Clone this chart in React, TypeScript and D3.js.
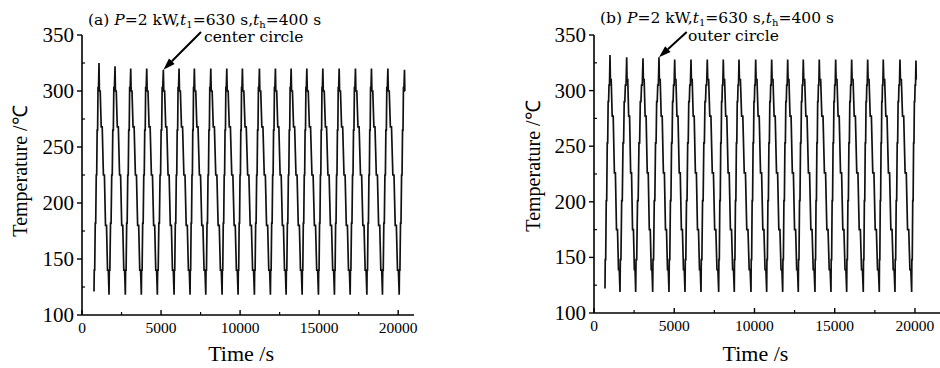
import React from "react";
import * as d3 from "d3";

const xMajorTicks = [0, 5000, 10000, 15000, 20000];
const xMinorTicks = [2500, 7500, 12500, 17500];
const yMajorTicks = [100, 150, 200, 250, 300, 350];
const yMinorTicks = [125, 175, 225, 275, 325];

// where each temperature plateau starts / ends, as a share of the rise (min→peak) and fall (peak→next min) time
const riseStart = [0.05, 0.25, 0.45, 0.63, 0.8];
const riseEnd = [0.14, 0.34, 0.54, 0.72, 0.9];
const fallStart = [0.04, 0.22, 0.44, 0.65, 0.85];
const fallEnd = [0.12, 0.32, 0.54, 0.75, 0.93];

// (a) center circle
const centerMinTimes = [759, 1709, 2741, 3753, 4766, 5823, 6835, 7829, 8861, 9873, 10905, 11918, 12911, 13924, 14956, 15968, 16962, 18019, 19006, 20063];
const centerMinTemps = [121, 118, 118, 118, 118, 118, 118, 118, 118, 118, 118, 118, 118, 118, 118, 118, 118, 118, 118, 118];
const centerPeakTimes = [1076, 2089, 3082, 4095, 5146, 6139, 7108, 8146, 9158, 10146, 11222, 12234, 13228, 14222, 15234, 16266, 17297, 18310, 19348, 20399];
const centerPeakTemps = [325, 322, 320, 320, 319, 320, 320, 320, 320, 320, 320, 320, 320, 320, 320, 320, 320, 320, 320, 319];
const centerRiseLevels = [140, 182, 225, 265, 303];
const centerFallLevels = [300, 268, 225, 180, 140];
const centerEndTime = 20440;

// (b) outer circle
const outerMinTimes = [685, 1620, 2598, 3657, 4673, 5670, 6667, 7769, 8741, 9782, 10760, 11757, 12729, 13769, 14766, 15745, 16779, 17776, 18754, 19794];
const outerMinTemps = [122, 119, 119, 119, 119, 119, 119, 119, 119, 119, 119, 119, 119, 119, 119, 119, 119, 119, 119, 119];
const outerPeakTimes = [997, 2037, 3053, 4050, 5028, 6044, 7059, 8056, 9034, 10075, 11072, 12069, 13041, 14037, 15059, 16056, 17053, 18025, 19065, 20062];
const outerPeakTemps = [332, 330, 329, 330, 328, 328, 328, 328, 328, 328, 328, 328, 328, 328, 328, 328, 328, 328, 328, 327];
const outerRiseLevels = [148, 201, 253, 290, 305];
const outerFallLevels = [310, 277, 226, 175, 139];
const outerEndTime = 20100;

type Pt = [number, number];

function buildSeries(
  minT: number[], minV: number[], peakT: number[], peakV: number[],
  riseLv: number[], fallLv: number[], endT: number
): Pt[] {
  const pts: Pt[] = [];
  const n = minT.length;
  for (let i = 0; i < n; i++) {
    const rise = peakT[i] - minT[i];
    pts.push([minT[i], minV[i]]);
    riseLv.forEach((v, k) => {
      pts.push([minT[i] + riseStart[k] * rise, v]);
      pts.push([minT[i] + riseEnd[k] * rise, v]);
    });
    pts.push([peakT[i], peakV[i]]);
    if (i + 1 < n) {
      const fall = minT[i + 1] - peakT[i];
      fallLv.forEach((v, k) => {
        pts.push([peakT[i] + fallStart[k] * fall, v]);
        pts.push([peakT[i] + fallEnd[k] * fall, v]);
      });
    } else {
      pts.push([endT - 20, fallLv[0]]);
      pts.push([endT, fallLv[0]]);
    }
  }
  return pts;
}

const SERIF = "'DejaVu Serif', serif";
const TIMES = "'Liberation Serif', serif";

type PanelProps = {
  letter: string;
  label: string;
  x0: number; x1: number; xMax: number;
  yTop: number; yBottom: number;
  series: Pt[];
  arrowIdx: number;
  peakT: number[]; peakV: number[];
  titleX: number; titleY: number;
  labelX: number; labelY: number;
  arrowTail: Pt;
  yLabelX: number; yLabelY: number;
};

function Panel(p: PanelProps) {
  const x = d3.scaleLinear().domain([0, p.xMax]).range([p.x0, p.x1]);
  const y = d3.scaleLinear().domain([100, 350]).range([p.yBottom, p.yTop]);
  const line = d3.line<Pt>().x(d => x(d[0])).y(d => y(d[1])).curve(d3.curveLinear);
  const tip: Pt = [x(p.peakT[p.arrowIdx]), y(p.peakV[p.arrowIdx])];
  const [tx, ty] = p.arrowTail;
  const ang = Math.atan2(tip[1] - ty, tip[0] - tx);
  const hl = 12, hw = 4;
  const bx = tip[0] - hl * Math.cos(ang), by = tip[1] - hl * Math.sin(ang);
  const head = [
    tip,
    [bx + hw * Math.sin(ang), by - hw * Math.cos(ang)],
    [bx - hw * Math.sin(ang), by + hw * Math.cos(ang)],
  ].map(q => q.join(",")).join(" ");
  const xb = y(100);
  return (
    <g fill="#000">
      <path d={line(p.series) || ""} fill="none" stroke="#111" strokeWidth={1.7} strokeLinejoin="miter" strokeMiterlimit={2} />
      {/* axes */}
      <line x1={p.x0} x2={p.x0} y1={y(350)} y2={xb} stroke="#000" strokeWidth={1.6} />
      <line x1={p.x0} x2={p.x1} y1={xb} y2={xb} stroke="#000" strokeWidth={1.6} />
      {yMajorTicks.map(v => (
        <g key={"ym" + v}>
          <line x1={p.x0 - 5} x2={p.x0} y1={y(v)} y2={y(v)} stroke="#000" strokeWidth={1.4} />
          <text x={p.x0 - 8} y={y(v) + 7} textAnchor="end" fontSize={21} fontFamily={TIMES}>{v}</text>
        </g>
      ))}
      {yMinorTicks.map(v => (
        <line key={"yn" + v} x1={p.x0} x2={p.x0 + 3} y1={y(v)} y2={y(v)} stroke="#000" strokeWidth={1.2} />
      ))}
      {xMajorTicks.map(v => (
        <g key={"xm" + v}>
          <line x1={x(v)} x2={x(v)} y1={xb} y2={xb - 5} stroke="#000" strokeWidth={1.4} />
          <text x={x(v)} y={xb + 18} textAnchor="middle" fontSize={15.5} fontFamily={TIMES}>{v}</text>
        </g>
      ))}
      {xMinorTicks.map(v => (
        <line key={"xn" + v} x1={x(v)} x2={x(v)} y1={xb} y2={xb - 3} stroke="#000" strokeWidth={1.2} />
      ))}
      <text x={(p.x0 + x(20000)) / 2 + 1} y={361} textAnchor="middle" fontSize={22} fontFamily={TIMES}>Time /s</text>
      <text transform={`translate(${p.yLabelX},${p.yLabelY}) rotate(-90)`} textAnchor="middle" fontSize={20} fontFamily={TIMES}>Temperature /℃</text>
      {/* title */}
      <text x={p.titleX} y={p.titleY} fontSize={15.5} fontFamily={SERIF}>
        ({p.letter}) <tspan fontStyle="italic">P</tspan>=2 kW,<tspan fontStyle="italic">t</tspan><tspan fontSize={10} baselineShift="-3">1</tspan>=630 s,<tspan fontStyle="italic">t</tspan><tspan fontSize={10} baselineShift="-3">h</tspan>=400 s
      </text>
      <text x={p.labelX} y={p.labelY} fontSize={15.5} fontFamily={SERIF}>{p.label}</text>
      <line x1={tx} y1={ty} x2={bx} y2={by} stroke="#000" strokeWidth={2} />
      <polygon points={head} fill="#000" />
    </g>
  );
}

export default function App() {
  const centerSeries = buildSeries(centerMinTimes, centerMinTemps, centerPeakTimes, centerPeakTemps, centerRiseLevels, centerFallLevels, centerEndTime);
  const outerSeries = buildSeries(outerMinTimes, outerMinTemps, outerPeakTimes, outerPeakTemps, outerRiseLevels, outerFallLevels, outerEndTime);
  return (
    <svg width={940} height={368} style={{ position: "absolute", left: 0, top: 0, background: "#fff" }}>
      <rect width={940} height={368} fill="#fff" />
      <Panel letter="a" label="center circle" x0={82} x1={414} xMax={21000} yTop={35} yBottom={315}
        series={centerSeries} arrowIdx={4} peakT={centerPeakTimes} peakV={centerPeakTemps}
        titleX={88} titleY={25} labelX={204} labelY={42} arrowTail={[201, 32]} yLabelX={27} yLabelY={171} />
      <Panel letter="b" label="outer circle" x0={594} x1={940} xMax={21560} yTop={35} yBottom={313}
        series={outerSeries} arrowIdx={3} peakT={outerPeakTimes} peakV={outerPeakTemps}
        titleX={600} titleY={23} labelX={688} labelY={41} arrowTail={[686.7, 32]} yLabelX={540} yLabelY={166} />
    </svg>
  );
}
